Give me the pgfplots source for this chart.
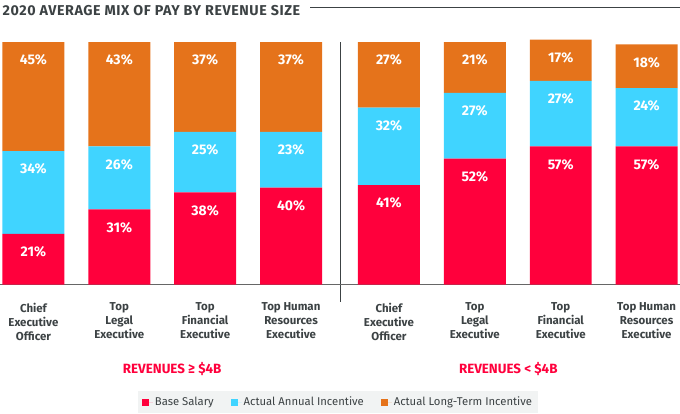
\documentclass[border=0pt]{standalone}
\usepackage{pgfplots}
\pgfplotsset{compat=1.18}
\usepackage{pgfplotstable}
\usepackage{fontspec}
\setmainfont{Fira Sans}

\definecolor{basered}{RGB}{255,0,60}
\definecolor{annual}{RGB}{64,212,255}
\definecolor{lti}{RGB}{229,115,27}
\definecolor{txt}{RGB}{60,66,68}
\definecolor{legbg}{RGB}{241,243,243}

% x = bar centre in px, values in percent
\pgfplotstableread{
x   base ann lti
33  21   34  45
119 31   26  43
205 38   25  37
291 40   23  37
389 41   32  27
475 52   27  21
561 57   27  17
647 57   24  18
}\mixdata

\begin{document}
\begin{tikzpicture}
\begin{axis}[
    scale only axis,
    width=680pt, height=285pt,
    xmin=0, xmax=680, ymin=0, ymax=117.28,
    axis line style={draw=none},
    ybar stacked, bar width=62,
    xtick={33,119,205,291,389,475,561,647},
    xticklabels={{Chief\\Executive\\Officer},{Top\\Legal\\Executive},{Top\\Financial\\Executive},{Top Human\\Resources\\Executive},
                 {Chief\\Executive\\Officer},{Top\\Legal\\Executive},{Top\\Financial\\Executive},{Top Human\\Resources\\Executive}},
    xticklabel style={align=center, anchor=north, inner sep=0pt, yshift=-18pt,
        font=\fontsize{11.5}{14}\selectfont\bfseries, text=txt},
    major tick length=0pt,
    ytick=\empty,
    clip=false,
    point meta=explicit symbolic,
    nodes near coords={\pgfplotspointmeta\%},
    nodes near coords align={center},
    % labels sit 18px below the top of each segment (1% = 2.43px)
    every node near coord/.append style={anchor=center,
        yshift={\pgfplotspointmeta*1.215pt-18pt}, text=white,
        font=\fontsize{14}{16}\selectfont\bfseries},
    legend image code/.code={\fill[#1,draw=none] (0pt,-3.5pt) rectangle (7pt,3.5pt);
        \path (0pt,0pt) -- (10.5pt,0pt);},
    legend style={at={(0.2029,-0.4527)}, anchor=south west, fill=legbg, draw=none,
        legend columns=3, font=\fontsize{11.3}{13}\selectfont, text=txt,
        inner xsep=4pt, inner ysep=4pt,
        /tikz/every even column/.append style={column sep=15.5pt}},
]
\addplot[fill=basered, draw=none] table[x=x, y=base, meta=base] {\mixdata};
\addplot[fill=annual, draw=none] table[x=x, y=ann, meta=ann] {\mixdata};
\addplot[fill=lti, draw=none] table[x=x, y=lti, meta=lti] {\mixdata};
\legend{Base Salary, Actual Annual Incentive, Actual Long-Term Incentive}

\draw[black!60, line width=0.9pt] (axis cs:0,0) -- (axis cs:680,0);
\draw[txt, line width=0.9pt] (axis cs:340,100) -- (axis cs:340,-7);

\node[anchor=west, inner sep=0pt, text=txt, font=\fontsize{14.3}{16}\selectfont\bfseries\addfontfeature{LetterSpace=4}]
    at (axis cs:2,113.05) {2020 AVERAGE MIX OF PAY BY REVENUE SIZE};
\draw[txt, line width=0.8pt] (axis cs:310,114.2) -- (axis cs:680,114.2);

\node[text=basered, font=\fontsize{13.4}{15}\selectfont\bfseries] at (axis cs:172,-34.57) {REVENUES ≥ \$4B};
\node[text=basered, font=\fontsize{13.4}{15}\selectfont\bfseries] at (axis cs:508.5,-34.57) {REVENUES < \$4B};

\path (axis cs:0,117.28) rectangle (axis cs:680,-53.09);
\end{axis}
\end{tikzpicture}
\end{document}
